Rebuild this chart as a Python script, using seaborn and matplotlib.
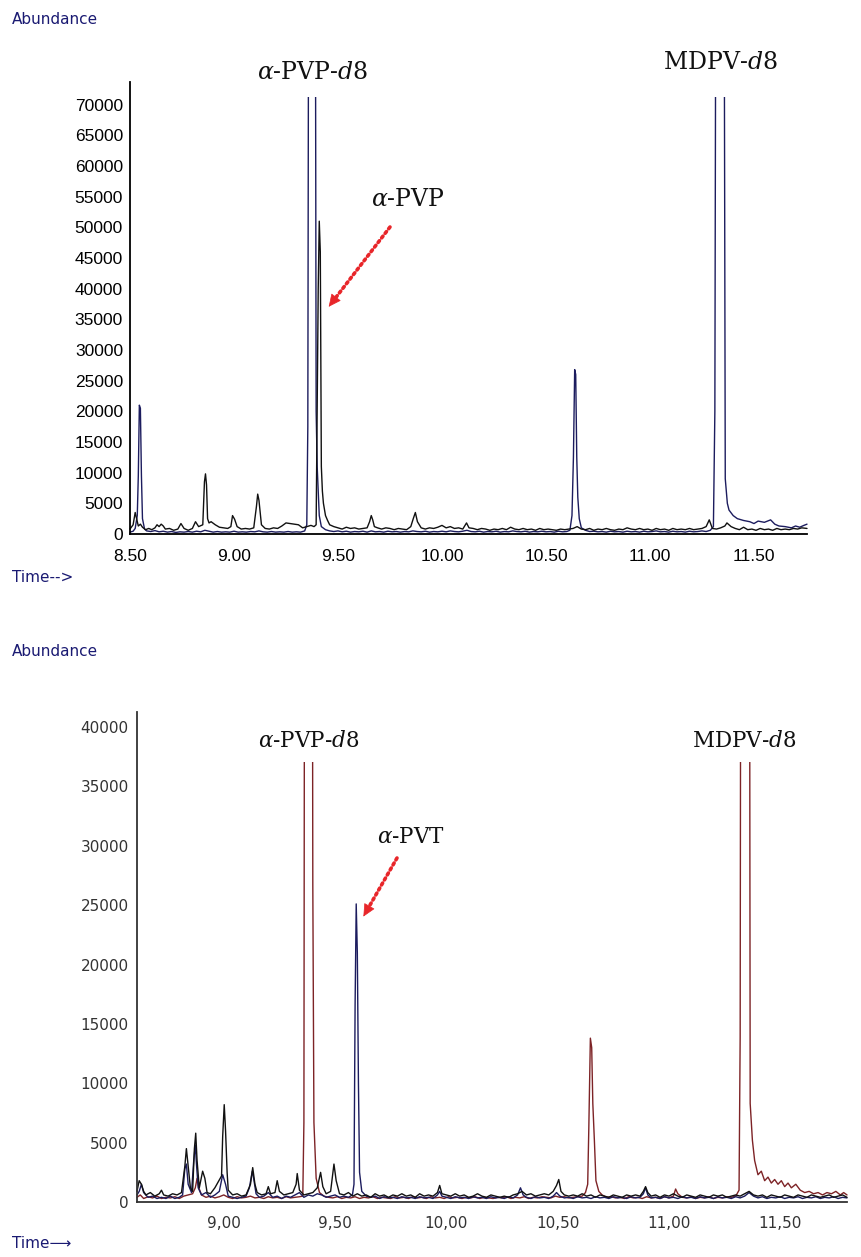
import matplotlib
matplotlib.use("Agg")
import matplotlib.pyplot as plt
from matplotlib.patches import Rectangle, FancyArrowPatch
from matplotlib.lines import Line2D
from matplotlib.ticker import MultipleLocator, FuncFormatter
import seaborn as sns
import pandas as pd
import math

# ---------------- data (time [min], abundance) ----------------
TOP_NAVY = [
(8.500, 300),(8.515, 450),(8.525, 900),(8.535, 3000),(8.540, 9500),(8.545, 21000),(8.550, 20500),(8.555, 9500),(8.560, 2500),(8.570, 800),(8.580, 500),(8.600, 400),(8.620, 550),(8.640, 350),(8.660, 450),(8.680, 300),(8.700, 400),(8.720, 250),(8.740, 350),(8.760, 300),(8.780, 400),(8.800, 300),(8.820, 450),(8.840, 350),(8.860, 600),(8.880, 450),(8.900, 300),(8.920, 400),(8.940, 300),(8.960, 350),(8.980, 300),(9.000, 450),(9.020, 300),(9.040, 350),(9.060, 300),(9.080, 400),(9.100, 350),(9.120, 500),(9.140, 350),(9.160, 300),(9.180, 400),(9.200, 300),(9.220, 350),(9.240, 300),(9.260, 400),(9.280, 300),(9.300, 350),(9.320, 300),(9.340, 500),(9.350, 1500),(9.355, 17500),(9.360, 120000),(9.390, 120000),(9.395, 20000),(9.400, 11000),(9.410, 3000),(9.420, 1200),(9.440, 700),(9.460, 500),(9.480, 400),(9.500, 500),(9.520, 350),(9.540, 450),(9.560, 300),(9.580, 400),(9.600, 350),(9.620, 450),(9.640, 300),(9.660, 500),(9.680, 350),(9.700, 400),(9.720, 300),(9.740, 450),(9.760, 350),(9.780, 400),(9.800, 300),(9.820, 400),(9.840, 350),(9.860, 500),(9.880, 400),(9.900, 350),(9.920, 450),(9.940, 300),(9.960, 400),(9.980, 350),(10.000, 450),(10.020, 350),(10.040, 500),(10.060, 400),(10.080, 350),(10.100, 450),(10.120, 600),(10.140, 400),(10.160, 350),(10.180, 450),(10.200, 300),(10.220, 400),(10.240, 350),(10.260, 450),(10.280, 300),(10.300, 400),(10.320, 350),(10.340, 500),(10.360, 400),(10.380, 350),(10.400, 450),(10.420, 300),(10.440, 400),(10.460, 350),(10.480, 450),(10.500, 350),(10.520, 400),(10.540, 300),(10.560, 450),(10.580, 350),(10.600, 400),(10.615, 600),(10.625, 3000),(10.632, 12500),(10.638, 26800),(10.643, 26000),(10.648, 12500),(10.653, 6000),(10.660, 2500),(10.670, 1000),(10.690, 600),(10.710, 400),(10.730, 450),(10.750, 350),(10.770, 400),(10.790, 300),(10.810, 450),(10.830, 350),(10.850, 400),(10.870, 300),(10.890, 450),(10.910, 350),(10.930, 400),(10.950, 300),(10.970, 450),(10.990, 350),(11.010, 400),(11.030, 500),(11.050, 350),(11.070, 400),(11.090, 300),(11.110, 450),(11.130, 350),(11.150, 400),(11.170, 300),(11.190, 450),(11.210, 350),(11.230, 400),(11.250, 500),(11.270, 400),(11.290, 600),(11.305, 1200),(11.312, 20000),(11.318, 120000),(11.355, 120000),(11.362, 9000),(11.372, 5000),(11.380, 3900),(11.400, 3000),(11.420, 2500),(11.450, 2200),(11.480, 2000),(11.500, 1700),(11.520, 2100),(11.550, 1900),(11.580, 2300),(11.600, 1600),(11.620, 1300),(11.650, 1200),(11.680, 1000),(11.700, 1300),(11.720, 1100),(11.740, 1400),(11.755, 1600)]

TOP_BLACK = [
(8.500, 800),(8.515, 1500),(8.525, 3500),(8.532, 2500),(8.540, 1300),(8.550, 1600),(8.560, 1100),(8.575, 700),(8.590, 900),(8.605, 700),(8.620, 1000),(8.630, 1500),(8.640, 1200),(8.650, 1600),(8.660, 1300),(8.670, 800),(8.690, 900),(8.710, 600),(8.730, 800),(8.745, 1700),(8.760, 900),(8.780, 600),(8.800, 900),(8.815, 2000),(8.830, 1200),(8.850, 1500),(8.858, 8500),(8.863, 9800),(8.868, 8000),(8.873, 2500),(8.880, 1800),(8.890, 2000),(8.910, 1500),(8.930, 1100),(8.950, 1000),(8.970, 900),(8.985, 1200),(8.993, 3000),(9.003, 2400),(9.015, 1200),(9.035, 800),(9.055, 900),(9.075, 800),(9.095, 1000),(9.108, 4500),(9.114, 6500),(9.120, 5500),(9.126, 3500),(9.132, 1500),(9.150, 900),(9.170, 800),(9.190, 1000),(9.210, 900),(9.230, 1300),(9.250, 1800),(9.270, 1700),(9.290, 1600),(9.310, 1500),(9.330, 1000),(9.350, 1200),(9.370, 1400),(9.385, 1200),(9.395, 1500),(9.400, 20000),(9.405, 40000),(9.410, 51000),(9.415, 46000),(9.420, 11000),(9.425, 7000),(9.430, 5000),(9.440, 3000),(9.450, 2200),(9.460, 1500),(9.480, 1200),(9.500, 1000),(9.520, 800),(9.540, 1100),(9.560, 900),(9.580, 1000),(9.600, 800),(9.620, 900),(9.640, 1000),(9.652, 2000),(9.660, 3000),(9.667, 2300),(9.675, 1200),(9.690, 1000),(9.710, 800),(9.730, 1000),(9.750, 900),(9.770, 700),(9.790, 900),(9.810, 800),(9.830, 700),(9.850, 1200),(9.862, 2500),(9.872, 3500),(9.882, 2000),(9.900, 1000),(9.920, 800),(9.940, 1000),(9.960, 900),(9.980, 1100),(10.000, 1400),(10.020, 1000),(10.040, 1200),(10.060, 900),(10.080, 1000),(10.100, 800),(10.118, 1800),(10.130, 1000),(10.150, 900),(10.170, 700),(10.190, 900),(10.210, 800),(10.230, 600),(10.250, 800),(10.270, 700),(10.290, 900),(10.310, 700),(10.330, 1100),(10.350, 800),(10.370, 700),(10.390, 900),(10.410, 700),(10.430, 800),(10.450, 600),(10.470, 900),(10.490, 700),(10.510, 800),(10.530, 700),(10.550, 600),(10.570, 800),(10.590, 700),(10.610, 800),(10.630, 900),(10.650, 1200),(10.670, 800),(10.690, 700),(10.710, 900),(10.730, 600),(10.750, 800),(10.770, 700),(10.790, 900),(10.810, 700),(10.830, 600),(10.850, 800),(10.870, 700),(10.890, 1000),(10.910, 800),(10.930, 700),(10.950, 900),(10.970, 700),(10.990, 800),(11.010, 600),(11.030, 900),(11.050, 700),(11.070, 800),(11.090, 600),(11.110, 900),(11.130, 700),(11.150, 800),(11.170, 700),(11.190, 900),(11.210, 700),(11.230, 800),(11.250, 900),(11.270, 1200),(11.285, 2300),(11.300, 900),(11.320, 800),(11.340, 1000),(11.360, 1300),(11.370, 1800),(11.390, 1200),(11.410, 900),(11.430, 700),(11.450, 1100),(11.470, 700),(11.490, 800),(11.510, 600),(11.530, 900),(11.550, 700),(11.570, 800),(11.590, 600),(11.610, 900),(11.630, 700),(11.650, 800),(11.670, 700),(11.690, 900),(11.710, 800),(11.730, 1000),(11.755, 900)]

BOT_MAROON = [
(8.610, 400),(8.625, 600),(8.640, 300),(8.660, 450),(8.680, 350),(8.700, 500),(8.720, 300),(8.740, 400),(8.760, 350),(8.780, 450),(8.800, 300),(8.820, 500),(8.840, 600),(8.860, 700),(8.872, 1200),(8.880, 2000),(8.888, 1200),(8.900, 600),(8.920, 400),(8.940, 500),(8.960, 350),(8.980, 450),(9.000, 600),(9.020, 400),(9.040, 300),(9.060, 450),(9.080, 350),(9.100, 400),(9.120, 500),(9.140, 350),(9.160, 400),(9.180, 300),(9.200, 450),(9.220, 350),(9.240, 400),(9.260, 300),(9.280, 450),(9.300, 350),(9.320, 400),(9.340, 450),(9.355, 500),(9.360, 6700),(9.365, 90000),(9.395, 90000),(9.400, 26700),(9.405, 6700),(9.415, 2000),(9.430, 800),(9.450, 500),(9.470, 400),(9.490, 350),(9.510, 450),(9.530, 300),(9.550, 400),(9.570, 350),(9.590, 450),(9.610, 300),(9.630, 400),(9.650, 350),(9.670, 450),(9.690, 300),(9.710, 400),(9.730, 350),(9.750, 300),(9.770, 450),(9.790, 350),(9.810, 400),(9.830, 300),(9.850, 450),(9.870, 350),(9.890, 400),(9.910, 300),(9.930, 450),(9.950, 350),(9.970, 400),(9.990, 300),(10.010, 450),(10.030, 350),(10.050, 400),(10.070, 300),(10.090, 400),(10.110, 350),(10.130, 450),(10.150, 300),(10.170, 400),(10.190, 350),(10.210, 300),(10.230, 400),(10.250, 350),(10.270, 450),(10.290, 300),(10.310, 400),(10.330, 350),(10.350, 450),(10.370, 300),(10.390, 400),(10.410, 350),(10.430, 450),(10.450, 400),(10.470, 350),(10.490, 500),(10.510, 400),(10.530, 450),(10.550, 350),(10.570, 400),(10.590, 450),(10.610, 500),(10.625, 800),(10.635, 1500),(10.640, 6200),(10.647, 13800),(10.653, 13000),(10.658, 8300),(10.665, 5200),(10.672, 1800),(10.685, 900),(10.700, 600),(10.720, 400),(10.740, 450),(10.760, 350),(10.780, 400),(10.800, 300),(10.820, 450),(10.840, 350),(10.860, 400),(10.880, 300),(10.900, 450),(10.920, 350),(10.940, 400),(10.960, 300),(10.980, 450),(11.000, 350),(11.020, 500),(11.030, 1100),(11.040, 700),(11.060, 400),(11.080, 350),(11.100, 450),(11.120, 300),(11.140, 400),(11.160, 350),(11.180, 450),(11.200, 300),(11.220, 400),(11.240, 350),(11.260, 450),(11.280, 400),(11.300, 500),(11.315, 1000),(11.320, 13900),(11.325, 90000),(11.360, 90000),(11.365, 8300),(11.375, 5200),(11.385, 3500),(11.400, 2300),(11.415, 2600),(11.430, 1800),(11.445, 2100),(11.460, 1600),(11.475, 1900),(11.490, 1500),(11.505, 1800),(11.520, 1300),(11.535, 1600),(11.550, 1200),(11.570, 1500),(11.590, 1000),(11.610, 800),(11.630, 900),(11.650, 700),(11.670, 800),(11.690, 600),(11.710, 800),(11.730, 700),(11.750, 900),(11.770, 600),(11.785, 800),(11.800, 600)]

BOT_NAVY = [
(8.610, 600),(8.620, 900),(8.630, 1500),(8.640, 800),(8.660, 400),(8.680, 500),(8.700, 300),(8.720, 400),(8.740, 300),(8.760, 500),(8.780, 300),(8.800, 400),(8.815, 600),(8.825, 2800),(8.832, 3200),(8.840, 1500),(8.855, 800),(8.865, 3500),(8.872, 4800),(8.878, 3000),(8.885, 1200),(8.900, 600),(8.920, 800),(8.940, 400),(8.960, 600),(8.980, 900),(8.995, 2300),(9.008, 1500),(9.020, 500),(9.040, 400),(9.060, 300),(9.080, 400),(9.100, 500),(9.115, 1200),(9.128, 2600),(9.135, 1900),(9.145, 700),(9.160, 400),(9.180, 500),(9.200, 800),(9.220, 400),(9.240, 500),(9.260, 300),(9.280, 500),(9.300, 400),(9.320, 600),(9.340, 800),(9.360, 400),(9.380, 600),(9.400, 500),(9.420, 700),(9.440, 600),(9.460, 400),(9.480, 500),(9.500, 600),(9.520, 400),(9.540, 500),(9.560, 400),(9.578, 600),(9.585, 1500),(9.590, 16600),(9.595, 25100),(9.600, 21000),(9.605, 10000),(9.610, 2500),(9.620, 900),(9.640, 500),(9.660, 400),(9.680, 500),(9.700, 300),(9.720, 450),(9.740, 350),(9.760, 400),(9.780, 300),(9.800, 450),(9.820, 350),(9.840, 400),(9.860, 300),(9.880, 450),(9.900, 350),(9.920, 400),(9.940, 300),(9.960, 600),(9.970, 900),(9.980, 500),(10.000, 400),(10.020, 300),(10.040, 450),(10.060, 350),(10.080, 400),(10.100, 300),(10.120, 450),(10.140, 350),(10.160, 400),(10.180, 300),(10.200, 450),(10.220, 350),(10.240, 400),(10.260, 300),(10.280, 450),(10.300, 350),(10.320, 600),(10.333, 1200),(10.345, 600),(10.360, 400),(10.380, 300),(10.400, 450),(10.420, 350),(10.440, 400),(10.460, 300),(10.480, 500),(10.495, 800),(10.510, 500),(10.530, 350),(10.550, 400),(10.570, 300),(10.590, 450),(10.610, 350),(10.630, 400),(10.650, 300),(10.670, 450),(10.690, 350),(10.710, 400),(10.730, 300),(10.750, 450),(10.770, 350),(10.790, 400),(10.810, 300),(10.830, 450),(10.850, 350),(10.870, 400),(10.885, 700),(10.895, 1200),(10.905, 600),(10.920, 350),(10.940, 400),(10.960, 300),(10.980, 450),(11.000, 350),(11.020, 400),(11.040, 300),(11.060, 450),(11.080, 350),(11.100, 400),(11.120, 300),(11.140, 450),(11.160, 350),(11.180, 400),(11.200, 300),(11.220, 450),(11.240, 350),(11.260, 400),(11.280, 300),(11.300, 450),(11.320, 350),(11.340, 500),(11.360, 800),(11.380, 500),(11.400, 350),(11.420, 450),(11.440, 300),(11.460, 400),(11.480, 350),(11.500, 450),(11.520, 300),(11.540, 400),(11.560, 350),(11.580, 450),(11.600, 300),(11.620, 400),(11.640, 350),(11.660, 450),(11.680, 300),(11.700, 400),(11.720, 350),(11.740, 450),(11.760, 300),(11.780, 400),(11.800, 350)]

BOT_BLACK = [
(8.610, 900),(8.620, 1800),(8.630, 1500),(8.640, 900),(8.650, 600),(8.670, 800),(8.690, 500),(8.710, 700),(8.720, 1000),(8.730, 600),(8.750, 500),(8.770, 700),(8.790, 600),(8.810, 800),(8.825, 3000),(8.832, 4500),(8.840, 3000),(8.850, 1200),(8.860, 900),(8.868, 4500),(8.874, 5800),(8.880, 3500),(8.890, 1200),(8.905, 2600),(8.915, 2000),(8.925, 800),(8.940, 700),(8.960, 1200),(8.975, 1700),(8.990, 2200),(8.995, 5500),(9.002, 8200),(9.008, 6000),(9.015, 2500),(9.020, 1000),(9.040, 600),(9.060, 700),(9.080, 500),(9.100, 600),(9.120, 1500),(9.130, 2900),(9.140, 1500),(9.150, 800),(9.170, 600),(9.190, 700),(9.200, 1300),(9.210, 700),(9.230, 800),(9.240, 1800),(9.250, 900),(9.270, 600),(9.290, 700),(9.310, 800),(9.325, 1500),(9.330, 2400),(9.340, 1000),(9.360, 600),(9.380, 700),(9.400, 800),(9.420, 1200),(9.435, 2500),(9.445, 1300),(9.460, 700),(9.480, 900),(9.495, 3200),(9.505, 1800),(9.520, 700),(9.540, 600),(9.560, 800),(9.580, 500),(9.600, 700),(9.620, 500),(9.640, 600),(9.660, 400),(9.680, 700),(9.700, 500),(9.720, 600),(9.740, 400),(9.760, 600),(9.780, 500),(9.800, 700),(9.820, 500),(9.840, 600),(9.860, 400),(9.880, 700),(9.900, 500),(9.920, 600),(9.940, 500),(9.960, 800),(9.970, 1400),(9.980, 700),(10.000, 600),(10.020, 500),(10.040, 700),(10.060, 500),(10.080, 600),(10.100, 400),(10.120, 500),(10.140, 700),(10.160, 500),(10.180, 400),(10.200, 600),(10.220, 500),(10.240, 400),(10.260, 500),(10.280, 400),(10.300, 600),(10.320, 700),(10.340, 900),(10.360, 600),(10.380, 700),(10.400, 500),(10.420, 600),(10.440, 700),(10.460, 600),(10.480, 900),(10.495, 1400),(10.505, 1900),(10.515, 900),(10.530, 600),(10.550, 500),(10.570, 600),(10.590, 500),(10.610, 700),(10.630, 500),(10.650, 600),(10.670, 400),(10.690, 600),(10.710, 500),(10.730, 400),(10.750, 600),(10.770, 500),(10.790, 400),(10.810, 600),(10.830, 500),(10.850, 600),(10.870, 500),(10.885, 900),(10.895, 1300),(10.905, 800),(10.920, 500),(10.940, 600),(10.960, 400),(10.980, 600),(11.000, 500),(11.020, 700),(11.040, 500),(11.060, 400),(11.080, 600),(11.100, 500),(11.120, 400),(11.140, 600),(11.160, 500),(11.180, 400),(11.200, 600),(11.220, 500),(11.240, 600),(11.260, 400),(11.280, 500),(11.300, 600),(11.320, 500),(11.340, 700),(11.360, 900),(11.380, 600),(11.400, 500),(11.420, 600),(11.440, 400),(11.460, 600),(11.480, 500),(11.500, 400),(11.520, 600),(11.540, 500),(11.560, 400),(11.580, 600),(11.600, 500),(11.620, 400),(11.640, 600),(11.660, 500),(11.680, 400),(11.700, 500),(11.720, 600),(11.740, 400),(11.760, 500),(11.780, 600),(11.800, 400)]

TOP_TRACES = {"navy": TOP_NAVY, "black": TOP_BLACK}
BOT_TRACES = {"maroon": BOT_MAROON, "navy": BOT_NAVY, "black": BOT_BLACK}

TOP_XTICKS = [8.5, 9.0, 9.5, 10.0, 10.5, 11.0, 11.5]
TOP_YTICKS = list(range(0, 70001, 5000))
BOT_XTICKS = [9.0, 9.5, 10.0, 10.5, 11.0, 11.5]
BOT_YTICKS = list(range(0, 40001, 5000))

TOP_LABELS = [("α-PVP-d8", 9.38, 75200), ("MDPV-d8", 11.34, 76800)]
BOT_LABELS = [("α-PVP-d8", 9.38, 38800), ("MDPV-d8", 11.34, 38800)]

COLORS = {"navy": "#1c1c5e", "black": "#111111", "maroon": "#7d2326"}

# ---------------- figure ----------------
sns.set_style("white")
plt.rcParams["font.family"] = ["DejaVu Sans"]
plt.rcParams["mathtext.fontset"] = "dejavuserif"

fig = plt.figure(figsize=(8.62, 12.57), dpi=100)
ax1 = fig.add_axes([0.1508, 0.5752, 0.7854, 0.3596])
ax2 = fig.add_axes([0.1589, 0.0437, 0.8237, 0.3899])


def draw(ax, traces, ceiling):
    for name, pts in traces.items():
        df = pd.DataFrame(pts, columns=["time", "abundance"])
        sns.lineplot(data=df, x="time", y="abundance", ax=ax, color=COLORS[name],
                     lw=1.0, sort=False, estimator=None)
        rect = Rectangle((0, -1e5), 100, ceiling + 1e5, transform=ax.transData)
        ax.lines[-1].set_clip_path(rect)
    ax.set_xlabel("")
    ax.set_ylabel("")
    for s in ["top", "right"]:
        ax.spines[s].set_visible(False)


# top panel
draw(ax1, TOP_TRACES, 71300)
ax1.set_xlim(8.5, 11.755)
ax1.set_ylim(0, 73700)
ax1.set_xticks(TOP_XTICKS)
ax1.xaxis.set_minor_locator(MultipleLocator(0.1))
ax1.set_yticks(TOP_YTICKS)
ax1.xaxis.set_major_formatter(FuncFormatter(lambda v, p: f"{v:.2f}"))
ax1.yaxis.set_major_formatter(FuncFormatter(lambda v, p: f"{int(v)}"))
for s in ["left", "bottom"]:
    ax1.spines[s].set_color("#000000")
    ax1.spines[s].set_linewidth(1.3)
ax1.tick_params(axis="both", which="both", direction="out", color="#000000",
                width=1.0, labelcolor="#000000")
ax1.tick_params(axis="x", which="both", length=5, pad=6)
ax1.tick_params(axis="y", which="major", length=4, pad=1)
for lab in ax1.get_xticklabels() + ax1.get_yticklabels():
    lab.set_fontfamily("Liberation Sans")
    lab.set_fontsize(12.5)

# bottom panel
draw(ax2, BOT_TRACES, 37050)
ax2.set_xlim(8.61, 11.80)
ax2.set_ylim(0, 41260)
ax2.set_xticks(BOT_XTICKS)
ax2.xaxis.set_minor_locator(MultipleLocator(0.1))
ax2.set_yticks(BOT_YTICKS)
ax2.yaxis.set_minor_locator(MultipleLocator(1000))
ax2.xaxis.set_major_formatter(FuncFormatter(lambda v, p: f"{v:.2f}".replace(".", ",")))
ax2.yaxis.set_major_formatter(FuncFormatter(lambda v, p: f"{int(v)}"))
for s in ["left", "bottom"]:
    ax2.spines[s].set_color("#333333")
    ax2.spines[s].set_linewidth(1.3)
ax2.tick_params(axis="both", which="both", direction="out", color="#333333",
                width=1.0, labelcolor="#333333")
ax2.tick_params(axis="x", which="both", length=5, pad=5)
ax2.tick_params(axis="y", which="major", length=5, pad=1)
ax2.tick_params(axis="y", which="minor", length=3)
for lab in ax2.get_xticklabels() + ax2.get_yticklabels():
    lab.set_fontfamily("DejaVu Sans")
    lab.set_fontsize(11)


def compound(ax, name, x, y, size):
    if name.startswith("α"):
        base = name[1:].replace("-d8", "-")
        txt = r"$\alpha$" + base + (r"$\mathit{d8}$" if name.endswith("d8") else "")
    else:
        txt = name.replace("-d8", "-") + r"$\mathit{d8}$"
    ax.text(x, y, txt, ha="center", va="center", fontsize=size,
            fontfamily="DejaVu Serif", color="#111111", clip_on=False)


for name, x, y in TOP_LABELS:
    compound(ax1, name, x, y, 17)
for name, x, y in BOT_LABELS:
    compound(ax2, name, x, y, 15.5)


# analyte labels with red dotted arrows (figure pixel coordinates)
def pix(x, y):
    return (x / 862, 1 - y / 1257)


fig.text(*pix(408, 199), r"$\alpha$-PVP", ha="center", va="center", fontsize=17,
         fontfamily="DejaVu Serif", color="#111111")
fig.text(*pix(411, 837), r"$\alpha$-PVT", ha="center", va="center", fontsize=15.5,
         fontfamily="DejaVu Serif", color="#111111")

RED = "#e8262a"
for (x0, y0), (x1, y1) in [((390, 227), (327, 309)), ((397, 858), (362, 919))]:
    L = math.hypot(x1 - x0, y1 - y0)
    ux, uy = (x1 - x0) / L, (y1 - y0) / L
    hx, hy = x1 - 11 * ux, y1 - 11 * uy
    xa, ya = pix(x0, y0)
    xb, yb = pix(hx, hy)
    fig.add_artist(Line2D([xa, xb], [ya, yb], transform=fig.transFigure, color=RED,
                          lw=2.6, linestyle=(0, (0.6, 1.0)), dash_capstyle="round"))
    head = FancyArrowPatch(pix(x1 - 13 * ux, y1 - 13 * uy), pix(x1, y1),
                           transform=fig.transFigure,
                           arrowstyle="-|>,head_length=8,head_width=3.8",
                           color=RED, lw=0.5, mutation_scale=1)
    fig.add_artist(head)

# axis captions
navy_txt = "#1a1a72"
fig.text(*pix(12, 20), "Abundance", ha="left", va="center", fontsize=11, color=navy_txt)
fig.text(*pix(12, 577), "Time-->", ha="left", va="center", fontsize=11, color=navy_txt)
fig.text(*pix(12, 652), "Abundance", ha="left", va="center", fontsize=11, color=navy_txt)
fig.text(*pix(12, 1244), "Time⟶", ha="left", va="center", fontsize=11,
         color=navy_txt, family=["DejaVu Sans"])

fig.savefig("out.png", dpi=100, facecolor="white")
